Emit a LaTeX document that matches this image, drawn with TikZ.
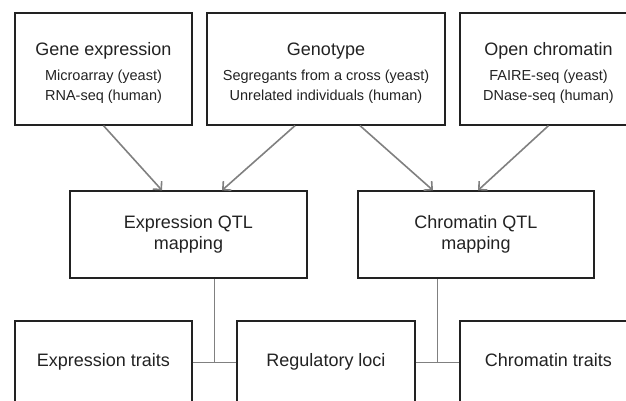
\documentclass[tikz,border=0pt]{standalone}
\usepackage{fontspec}
\setmainfont{Liberation Sans}
\usetikzlibrary{arrows.meta,calc}
\definecolor{boxline}{HTML}{222222}
\definecolor{arrowgray}{HTML}{808080}

\begin{document}
\begin{tikzpicture}[x=1pt, y=-1pt,
	databox/.style={draw=boxline, line width=1.3pt, minimum width=#1, minimum height=112pt,
		inner sep=0pt, align=center, text=boxline, font=\fontsize{14.5}{20}\selectfont},
	mapbox/.style={draw=boxline, line width=1.3pt, minimum width=#1, minimum height=87pt,
		inner sep=0pt, align=center, text=boxline, font=\fontsize{18}{21}\selectfont},
	traitbox/.style={draw=boxline, line width=1.3pt, minimum width=#1, minimum height=82pt,
		inner sep=0pt, text height=13pt, text depth=4pt, text=boxline, font=\fontsize{18}{21}\selectfont},
	feed/.style={draw=arrowgray, line width=1.6pt, -{Straight Barb[length=6pt, width=12pt]}},
	link/.style={draw=arrowgray, line width=1pt}]
	\useasboundingbox (0, 0) rectangle (626, 400);
	\clip (0, 0) rectangle (626, 400);
	% Data sources:
	\node[databox=177pt] (genexp) at (103.5, 69){\rule{0pt}{20pt}{\fontsize{18}{22}\selectfont Gene expression}\\[5pt]Microarray (yeast)\\RNA-seq (human)};
	\node[databox=238pt] (genotype) at (326, 69){\rule{0pt}{20pt}{\fontsize{18}{22}\selectfont Genotype}\\[5pt]Segregants from a cross (yeast)\\Unrelated individuals (human)};
	\node[databox=177pt] (openchr) at (548.5, 69){\rule{0pt}{20pt}{\fontsize{18}{22}\selectfont Open chromatin}\\[5pt]FAIRE-seq (yeast)\\DNase-seq (human)};
	% Mapping steps:
	\node[mapbox=237pt] (eqtl) at (188.5, 234.5){Expression QTL\\mapping};
	\node[mapbox=236pt] (cqtl) at (476, 234.5){Chromatin QTL\\mapping};
	% Results:
	\node[traitbox=177pt] (exptraits) at (103.5, 362){Expression traits};
	\node[traitbox=178pt] (regloci) at (326, 362){Regulatory loci};
	\node[traitbox=177pt] (chrtraits) at (548.5, 362){Chromatin traits};
	% Arrows:
	\draw[feed] (genexp.south) -- ([xshift=-26.5pt]eqtl.north);
	\draw[feed] ([xshift=-31pt]genotype.south) -- ([xshift=33.5pt]eqtl.north);
	\draw[feed] ([xshift=34pt]genotype.south) -- ([xshift=-43pt]cqtl.north);
	\draw[feed] (openchr.south) -- ([xshift=2pt]cqtl.north);
	% Links:
	\coordinate (ejoin) at ($(exptraits.east)!0.5!(regloci.west)$);
	\coordinate (cjoin) at ($(regloci.east)!0.5!(chrtraits.west)$);
	\draw[link] (exptraits.east) -- (regloci.west);
	\draw[link] (ejoin) -- (ejoin |- eqtl.south);
	\draw[link] (regloci.east) -- (chrtraits.west);
	\draw[link] (cjoin) -- (cjoin |- cqtl.south);
\end{tikzpicture}
\end{document}
